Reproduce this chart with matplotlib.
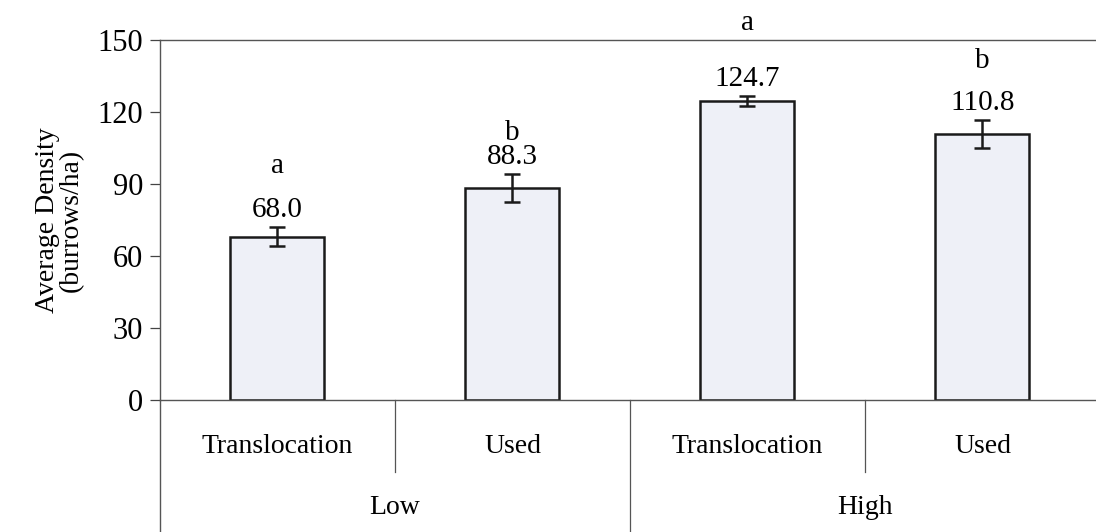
import matplotlib
matplotlib.use("Agg")
import matplotlib.pyplot as plt
import numpy as np

# data
treatments = ["Translocation", "Used", "Translocation", "Used"]
groups = ["Low", "High"]
density = [68.0, 88.3, 124.7, 110.8]
errors = [4.0, 5.8, 2.0, 6.0]
value_labels = ["68.0", "88.3", "124.7", "110.8"]
letters = ["a", "b", "a", "b"]

plt.rcParams['font.family'] = ['Liberation Serif', 'DejaVu Serif']

fig = plt.figure(figsize=(10.96, 5.32), dpi=100)
ax = fig.add_axes([160 / 1096, 132 / 532, 936 / 1096, 360 / 532])

x = np.arange(len(density))
ax.bar(x, density, width=0.4, color='#eef0f7', edgecolor='#1a1a1a', linewidth=1.8, zorder=2)
ax.errorbar(x, density, yerr=errors, fmt='none', ecolor='#1a1a1a', elinewidth=1.8,
            capsize=6, capthick=1.8, zorder=3)

# value labels and significance letters (gap in points above the value label)
letter_gap = [32, 17, 40, 30]
for i in range(len(density)):
    top = density[i] + errors[i]
    ax.annotate(value_labels[i], (x[i], top), xytext=(0, 3), textcoords='offset points',
                ha='center', va='bottom', fontsize=21, annotation_clip=False)
    ax.annotate(letters[i], (x[i], top), xytext=(0, 3 + letter_gap[i]), textcoords='offset points',
                ha='center', va='bottom', fontsize=21, annotation_clip=False)

ax.set_ylim(0, 150)
ax.set_xlim(-0.5, 3.483)
ax.set_yticks(np.arange(0, 151, 30))
ax.tick_params(axis='y', labelsize=22, length=7, width=0.9, color='#444444', direction='out', pad=5)
ax.set_xticks([])

ax.spines['right'].set_visible(False)
for side in ['left', 'top', 'bottom']:
    ax.spines[side].set_color('#555555')
    ax.spines[side].set_linewidth(1.0)

ax.set_ylabel("Average Density\n(burrows/ha)", fontsize=20, labelpad=10, linespacing=0.95)

# two-level category axis below the plot
tr = ax.get_xaxis_transform()
ax.plot([-0.5, -0.5], [0, -0.37], color='#555555', lw=1.0, transform=tr, clip_on=False)
for xb in [0.5, 2.5]:
    ax.plot([xb, xb], [0, -0.2], color='#555555', lw=0.9, transform=tr, clip_on=False)
ax.plot([1.5, 1.5], [0, -0.37], color='#555555', lw=0.9, transform=tr, clip_on=False)

for i, name in enumerate(treatments):
    ax.text(x[i], -0.13, name, transform=tr, ha='center', va='center', fontsize=20)
for g, name in enumerate(groups):
    ax.text(2 * g + 0.5, -0.3, name, transform=tr, ha='center', va='center', fontsize=20)

fig.savefig("out.png", dpi=100)
